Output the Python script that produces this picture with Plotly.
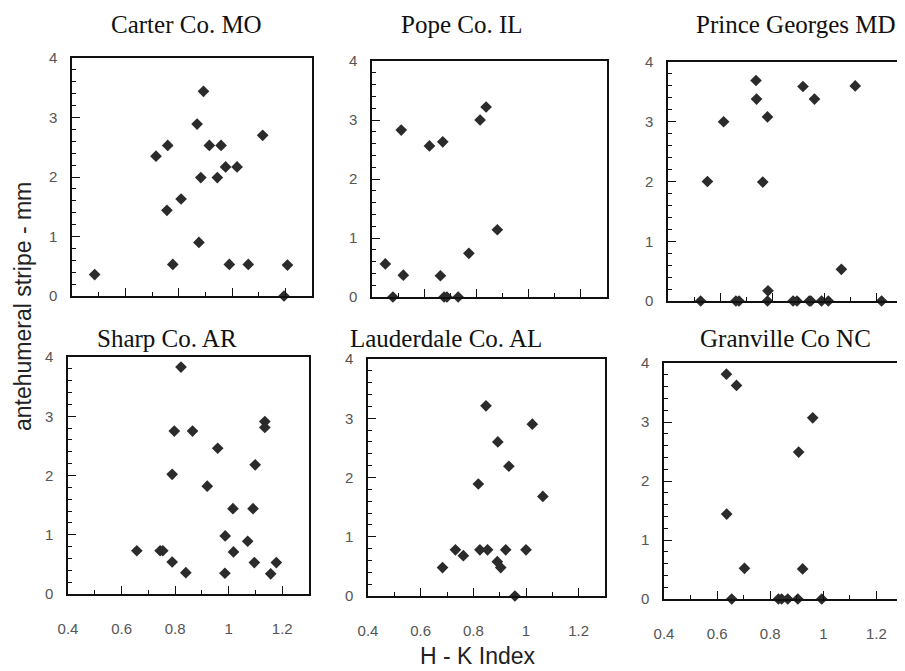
import plotly.graph_objects as go

# ---------------- data ----------------
panel_titles = ["Carter Co. MO", "Pope Co. IL", "Prince Georges MD",
                "Sharp Co. AR", "Lauderdale Co. AL", "Granville Co NC"]

carter_hk = [0.485, 0.715, 0.759, 0.756, 0.809, 0.778, 0.869, 0.893, 0.883, 0.876,
             0.915, 0.945, 0.959, 0.976, 1.019, 0.99, 1.061, 1.115, 1.208, 1.195]
carter_stripe = [0.36, 2.35, 2.53, 1.44, 1.63, 0.53, 2.89, 3.44, 1.99, 0.90,
                 2.53, 1.99, 2.53, 2.17, 2.17, 0.53, 0.53, 2.70, 0.52, 0.0]

pope_hk = [0.451, 0.480, 0.512, 0.520, 0.620, 0.671, 0.662, 0.676, 0.687, 0.730,
           0.771, 0.814, 0.837, 0.880]
pope_stripe = [0.56, 0.0, 2.83, 0.37, 2.56, 2.63, 0.36, 0.0, 0.0, 0.0,
               0.74, 3.0, 3.22, 1.14]

prince_hk = [0.525, 0.551, 0.613, 0.660, 0.672, 0.737, 0.739, 0.781, 0.763, 0.783,
             0.781, 0.879, 0.894, 0.917, 0.941, 0.947, 0.961, 0.988, 1.014, 1.064,
             1.117, 1.218]
prince_stripe = [0.0, 2.0, 3.0, 0.0, 0.0, 3.69, 3.38, 3.08, 1.99, 0.17,
                 0.0, 0.0, 0.0, 3.59, 0.0, 0.0, 3.38, 0.0, 0.0, 0.53,
                 3.6, 0.0]

sharp_hk = [0.657, 0.744, 0.754, 0.789, 0.789, 0.797, 0.822, 0.840, 0.865, 0.920,
            0.959, 0.987, 0.986, 1.016, 1.018, 1.071, 1.091, 1.096, 1.099, 1.135,
            1.135, 1.157, 1.178]
sharp_stripe = [0.73, 0.73, 0.73, 0.54, 2.02, 2.75, 3.83, 0.36, 2.75, 1.82,
                2.46, 0.98, 0.35, 1.44, 0.71, 0.89, 1.44, 0.53, 2.18, 2.91,
                2.81, 0.34, 0.53]

lauderdale_hk = [0.683, 0.732, 0.762, 0.819, 0.825, 0.848, 0.854, 0.893, 0.891, 0.904,
                 0.923, 0.935, 0.958, 1.0, 1.024, 1.064]
lauderdale_stripe = [0.48, 0.78, 0.68, 1.89, 0.78, 3.21, 0.78, 2.60, 0.58, 0.48,
                     0.78, 2.19, 0.0, 0.78, 2.90, 1.68]

granville_hk = [0.635, 0.673, 0.636, 0.703, 0.655, 0.831, 0.843, 0.866, 0.904, 0.907,
                0.922, 0.96, 0.994]
granville_stripe = [3.81, 3.62, 1.44, 0.52, 0.0, 0.0, 0.0, 0.0, 0.0, 2.49,
                    0.51, 3.07, 0.0]

x_tickvals = [0.4, 0.6, 0.8, 1.0, 1.2]
x_ticktext = ["0.4", "0.6", "0.8", "1", "1.2"]
y_tickvals = [0, 1, 2, 3, 4]
y_ticktext = ["0", "1", "2", "3", "4"]

x_title = "H - K Index"
y_title = "antehumeral stripe - mm"

# ---------------- layout geometry (screen pixels) ----------------
OFF = 8                      # page body margin
W, H = 905 - OFF, 671 - OFF  # figure size


def fx(px):
    return (px - OFF) / W


def fy(py):
    return 1 - (py - OFF) / H


boxes = [  # x0, x1, y0(top), y1(bottom)
    (72, 312, 58, 296),
    (372, 607, 61, 297),
    (668, 903, 62, 301),
    (68, 309, 357, 594),
    (368, 605, 359, 596),
    (664, 903, 363, 599),
]
title_pos = [(186, 9), (462, 9), (796, 9), (167, 323), (446, 323), (785, 323)]

series = [(carter_hk, carter_stripe), (pope_hk, pope_stripe),
          (prince_hk, prince_stripe), (sharp_hk, sharp_stripe),
          (lauderdale_hk, lauderdale_stripe), (granville_hk, granville_stripe)]

fig = go.Figure()
layout = dict(
    width=W, height=H,
    margin=dict(l=0, r=0, t=0, b=0, autoexpand=False),
    paper_bgcolor="white", plot_bgcolor="white",
    showlegend=False,
    annotations=[],
)

tick_font = dict(family="Liberation Sans, Arial, sans-serif", size=15, color="#555555")

for i, ((xs, ys), box) in enumerate(zip(series, boxes)):
    n = i + 1
    xa = "xaxis" if n == 1 else f"xaxis{n}"
    ya = "yaxis" if n == 1 else f"yaxis{n}"
    xr = "x" if n == 1 else f"x{n}"
    yr = "y" if n == 1 else f"y{n}"
    x0, x1, y0, y1 = box
    bottom_row = i >= 3
    layout[xa] = dict(
        domain=[fx(x0), fx(x1)], anchor=yr, automargin=False,
        range=[0.4, 1.3], showgrid=False, zeroline=False,
        showline=True, linecolor="#111111", linewidth=1.5, mirror=True,
        tickmode="array", tickvals=x_tickvals, ticktext=x_ticktext,
        ticks="inside", ticklen=8, tickwidth=1.2, tickcolor="#111111",
        minor=dict(dtick=0.1, tick0=0.4, ticks="inside", ticklen=4,
                   tickwidth=1, tickcolor="#111111"),
        showticklabels=bottom_row, tickfont=tick_font,
        ticklabelstandoff=20,
    )
    layout[ya] = dict(
        domain=[fy(y1), fy(y0)], anchor=xr, automargin=False,
        range=[0, 4], showgrid=False, zeroline=False,
        showline=True, linecolor="#111111", linewidth=1.5, mirror=True,
        tickmode="array", tickvals=y_tickvals, ticktext=y_ticktext,
        ticks="inside", ticklen=8, tickwidth=1.2, tickcolor="#111111",
        minor=dict(dtick=0.2, tick0=0, ticks="inside", ticklen=4,
                   tickwidth=1, tickcolor="#111111"),
        tickfont=tick_font, ticklabelstandoff=10,
    )
    fig.add_trace(go.Scatter(
        x=xs, y=ys, mode="markers", xaxis=xr, yaxis=yr,
        marker=dict(symbol="diamond", size=9, color="#2b2b2b"),
        cliponaxis=False,
    ))
    tx, ty = title_pos[i]
    layout["annotations"].append(dict(
        text=panel_titles[i], x=fx(tx), y=fy(ty), xref="paper", yref="paper",
        showarrow=False, xanchor="center", yanchor="top",
        font=dict(family="Liberation Serif, Times New Roman, serif", size=25, color="#111111"),
    ))

layout["annotations"].append(dict(
    text=x_title, x=fx(478), y=fy(656), xref="paper", yref="paper",
    showarrow=False, xanchor="center", yanchor="middle",
    font=dict(family="Liberation Sans, Arial, sans-serif", size=23, color="#222222"),
))
layout["annotations"].append(dict(
    text=y_title, x=fx(8), y=fy(307), xref="paper", yref="paper",
    showarrow=False, xanchor="left", yanchor="middle", textangle=-90,
    font=dict(family="Liberation Sans, Arial, sans-serif", size=23, color="#222222"),
))

fig.update_layout(**layout)
fig.write_html("out.html")
